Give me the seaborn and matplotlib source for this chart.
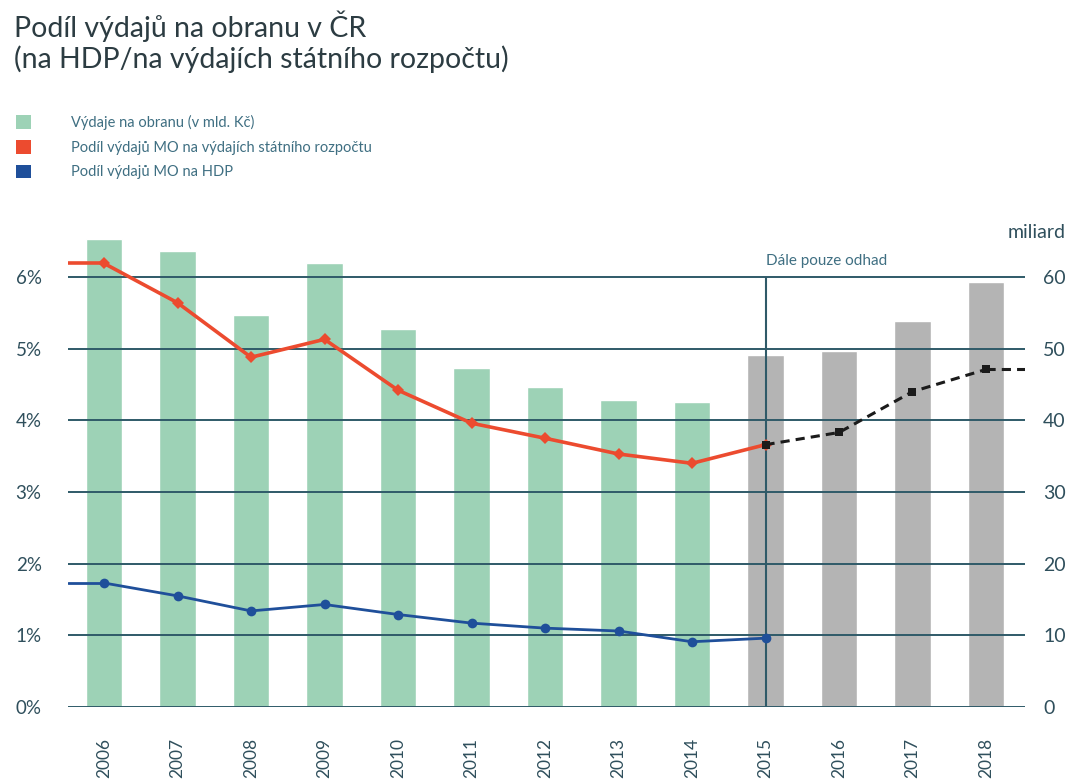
import numpy as np
import pandas as pd
import matplotlib
matplotlib.use("Agg")
import matplotlib.pyplot as plt
import seaborn as sns
from matplotlib.patches import Patch

# ---------------- data ----------------
years = ["2006", "2007", "2008", "2009", "2010", "2011", "2012",
         "2013", "2014", "2015", "2016", "2017", "2018"]
spending_bn = [65.3, 63.6, 54.7, 61.9, 52.7, 47.3, 44.6, 42.8, 42.5,
               49.1, 49.7, 53.8, 59.3]
budget_share = [6.19, 5.64, 4.88, 5.13, 4.42, 3.96, 3.75, 3.53, 3.40, 3.66]
budget_share_est_years = ["2015", "2016", "2017", "2018"]
budget_share_est = [3.66, 3.83, 4.40, 4.71]
gdp_share = [1.73, 1.55, 1.34, 1.43, 1.29, 1.17, 1.10, 1.06, 0.91, 0.96]
estimate_from = "2015"

pct_ticks = [0, 1, 2, 3, 4, 5, 6]
bn_ticks = [0, 10, 20, 30, 40, 50, 60]

title = "Podíl výdajů na obranu v ČR\n(na HDP/na výdajích státního rozpočtu)"
legend_labels = ["Výdaje na obranu (v mld. Kč)",
                 "Podíl výdajů MO na výdajích státního rozpočtu",
                 "Podíl výdajů MO na HDP"]
estimate_note = "Dále pouze odhad"
unit_label = "miliard"

# ---------------- style ----------------
GREEN = "#9dd2b6"
GRAY = "#b4b4b4"
RED = "#ec4b2f"
BLUE = "#1f4f9a"
BLACK = "#1b1b1b"
GRID = "#2f5a68"
TXT = "#2f4f5c"
LEG_TXT = "#3f6f82"

sns.set_theme(style="white")
plt.rcParams["font.family"] = ["Lato", "DejaVu Sans"]

fig = plt.figure(figsize=(10.71, 7.81), dpi=100)
ax = fig.add_axes([0.0635, 0.0948, 0.8935, 0.6056])

est_idx = years.index(estimate_from)
palette = {y: (GREEN if i < est_idx else GRAY) for i, y in enumerate(years)}
df = pd.DataFrame({"year": years, "spending": spending_bn})
sns.barplot(data=df, x="year", y="spending", hue="year", palette=palette,
            width=0.5, legend=False, saturation=1, ax=ax)

xmin, xmax = -0.49, len(years) - 0.47
ax.set_xlim(xmin, xmax)
ax.set_ylim(0, 66)
ax.set_yticks(bn_ticks)
ax.set_yticklabels([str(t) for t in bn_ticks])
ax.grid(axis="y", color=GRID, lw=1.4)
ax.grid(axis="x", visible=False)
ax.set_axisbelow(False)
ax.set_xlabel("")
ax.set_ylabel("")
for s in ax.spines.values():
    s.set_visible(False)

# vertical separator of estimates
ax.vlines(est_idx, 0, bn_ticks[-1], color=GRID, lw=1.5, zorder=3)
ax.text(est_idx, 62.3, estimate_note, fontsize=11, color=LEG_TXT,
        ha="left", va="center")

# percentage axis
ax2 = ax.twinx()
ax2.set_ylim(0, 6.6)
ax2.set_yticks(pct_ticks)
ax2.set_yticklabels([f"{t}%" for t in pct_ticks])
ax2.grid(False)
for s in ax2.spines.values():
    s.set_visible(False)

# tick sides (after twinx, which resets them)
ax.yaxis.tick_right()
ax2.yaxis.tick_left()
ax.tick_params(axis="y", which="both", left=False, labelleft=False,
               right=False, labelright=True, length=0, pad=13,
               labelsize=14, labelcolor=TXT)
ax.tick_params(axis="x", length=0, pad=22, labelsize=12.5, labelcolor=TXT,
               rotation=90)
ax2.tick_params(axis="y", which="both", right=False, labelright=False,
                left=False, labelleft=True, length=0, pad=19,
                labelsize=13.5, labelcolor=TXT)

x_act = np.arange(len(budget_share))
x_est = np.array([years.index(y) for y in budget_share_est_years])

# red line (state budget share)
ax2.plot([xmin, 0], [budget_share[0]] * 2, color=RED, lw=2.6, zorder=4)
sns.lineplot(x=x_act, y=budget_share, ax=ax2, color=RED, lw=2.6,
             marker="D", markersize=6, markeredgewidth=0, zorder=5)
# dashed estimate
ax2.plot([x_est[-1], xmax], [budget_share_est[-1]] * 2, color=BLACK, lw=2.2,
         ls=(0, (3, 2)), zorder=4)
sns.lineplot(x=x_est, y=budget_share_est, ax=ax2, color=BLACK, lw=2.2,
             marker="s", markersize=6, markeredgewidth=0, zorder=5)
ax2.lines[-1].set_linestyle((0, (3, 2)))

# blue line (GDP share)
ax2.plot([xmin, 0], [gdp_share[0]] * 2, color=BLUE, lw=2.0, zorder=4)
sns.lineplot(x=x_act, y=gdp_share, ax=ax2, color=BLUE, lw=2.0,
             marker="o", markersize=7, markeredgewidth=0, zorder=5)
ax2.set_xlim(xmin, xmax)
ax2.set_ylabel("")

# unit label
fig.text(0.995, 1 - 232 / 781, unit_label, ha="right", va="center",
         fontsize=14, color=TXT)

# title
fig.text(0.013, 1 - 11 / 781, title, ha="left", va="top", fontsize=20.5,
         color="#2c3c42", linespacing=1.12)

# legend
handles = [Patch(facecolor=GREEN, edgecolor="none"),
           Patch(facecolor=RED, edgecolor="none"),
           Patch(facecolor=BLUE, edgecolor="none")]
leg = fig.legend(handles, legend_labels, loc="upper left",
                 bbox_to_anchor=(16 / 1071, 1 - 115 / 781), frameon=False,
                 fontsize=10.5, handlelength=1.05, handleheight=1.05,
                 handletextpad=2.7, labelspacing=0.68, borderpad=0,
                 borderaxespad=0)
for t in leg.get_texts():
    t.set_color(LEG_TXT)

fig.savefig("out.png", dpi=100)
